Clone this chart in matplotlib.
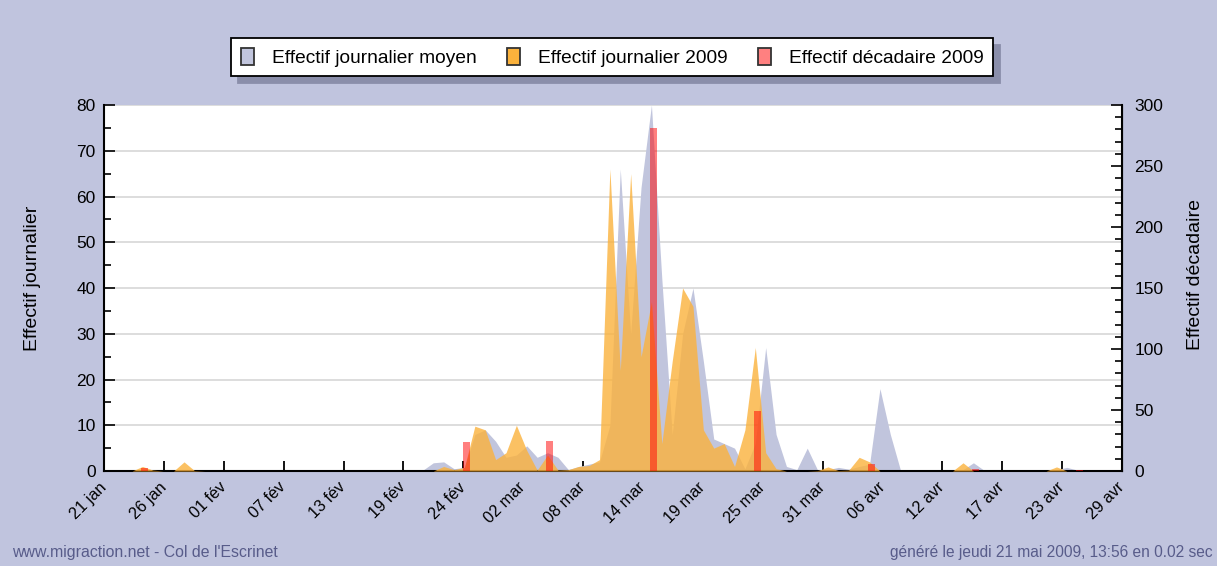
import numpy as np
import matplotlib
matplotlib.use("Agg")
import matplotlib.pyplot as plt
from matplotlib.patches import Patch
from matplotlib.ticker import MultipleLocator

plt.rcParams['font.family'] = ['Liberation Sans', 'DejaVu Sans']

#  Daily counts, one value per day starting 22 jan (day 1 = 22 jan)
moyen = [0, 0, 0, 0, 0, 0, 0, 0, 0, 0,
         0, 0, 0, 0, 0, 0, 0, 0, 0, 0,
         0, 0, 0, 0, 0, 0, 0, 0, 0, 0,
         0.2, 1.8, 2.0, 0.5, 0.8, 8, 9, 6.5, 3, 3.5,
         5.5, 3, 4, 3, 0.3, 1, 1.5, 2, 10, 66,
         30, 62, 80, 42, 8, 30, 40, 24, 7, 6,
         5, 0.5, 6, 27, 8, 1, 0.3, 5, 0.2, 0.3,
         0.8, 0.4, 1, 1.5, 18, 8, 0, 0, 0, 0,
         0, 0, 0.3, 1.8, 0.2, 0, 0, 0, 0, 0,
         0, 0.3, 0.8, 0.2, 0, 0, 0, 0, 0]
journalier_2009 = [0, 0, 0, 1, 0.2, 0, 0, 2, 0.1, 0,
                   0, 0, 0, 0, 0, 0, 0, 0, 0, 0,
                   0, 0, 0, 0, 0, 0, 0, 0, 0, 0,
                   0, 0, 1, 0.3, 0.8, 9.8, 9, 2.5, 4, 10,
                   4.5, 0.2, 3.5, 0.2, 0.3, 1, 1.2, 2.5, 66, 22,
                   65, 25, 37, 6, 24, 40, 36, 9, 5, 6,
                   1, 9, 27, 4, 0.5, 0, 0, 0, 0.1, 0.9,
                   0.1, 0.2, 3, 2, 0, 0, 0, 0, 0, 0,
                   0, 0, 1.8, 0, 0, 0, 0, 0, 0, 0,
                   0, 0.9, 0, 0, 0, 0, 0, 0, 0]
days = np.arange(1, len(moyen) + 1)

#  Decade sums 2009 (days since 21 jan at start of each decade)
decade_start = [0, 11, 21, 31, 39, 49, 59, 70, 80, 90]
decadaire_2009 = [2.5, 0, 0, 24, 25, 281, 49, 6, 2, 1]

tick_labels = ["21 jan", "26 jan", "01 fév", "07 fév", "13 fév", "19 fév",
               "24 fév", "02 mar", "08 mar", "14 mar", "19 mar", "25 mar",
               "31 mar", "06 avr", "12 avr", "17 avr", "23 avr", "29 avr"]

bg = "#c0c4de"
grey = "#c1c5dd"
orange = "#fbb23c"
red = "#ff0000"
txt = "#585c8a"

fig = plt.figure(figsize=(12.17, 5.66), dpi=100, facecolor=bg)
ax = fig.add_axes([0.0855, 0.1678, 0.8364, 0.6467])
ax.set_facecolor("white")

ax.fill_between(days, moyen, color=grey, lw=0, zorder=2)
ax.fill_between(days, journalier_2009, color=orange, alpha=0.8, lw=0, zorder=3)

x0, x1 = 0.3, 98.3
ax.set_xlim(x0, x1)
ax.set_ylim(0, 80)
ax.set_xticks(np.linspace(x0, x1, len(tick_labels)))
ax.set_xticklabels(tick_labels, rotation=45, ha="right", va="center",
                   rotation_mode="anchor", fontsize=11.7)
ax.yaxis.set_major_locator(MultipleLocator(10))
ax.yaxis.set_minor_locator(MultipleLocator(5))
ax.grid(axis="y", color="#dadada", lw=1.3, zorder=1)
ax.set_axisbelow(True)
ax.tick_params(axis="y", which="major", direction="in", length=8, width=1.2, labelsize=12.5, pad=6)
ax.tick_params(axis="y", which="minor", direction="in", length=5, width=1.2)
ax.tick_params(axis="x", direction="in", length=7, width=1.3, pad=10)
for s in ["left", "bottom"]:
    ax.spines[s].set_linewidth(1.5)
ax.spines["top"].set_visible(False)

ax2 = ax.twinx()
ax2.set_ylim(0, 300)
ax2.bar(np.array(decade_start) + 4.2, decadaire_2009, width=0.65, color=red,
        alpha=0.5, lw=0, zorder=4)
ax2.yaxis.set_major_locator(MultipleLocator(50))
ax2.yaxis.set_minor_locator(MultipleLocator(10))
ax2.tick_params(axis="y", which="major", direction="in", length=8, width=1.2, labelsize=12.5, pad=9)
ax2.tick_params(axis="y", which="minor", direction="in", length=5, width=1.2)
ax2.spines["right"].set_linewidth(1.5)
ax2.spines["top"].set_visible(False)
ax2.spines["left"].set_visible(False)
ax2.spines["bottom"].set_visible(False)

fig.text(33 / 1217, 1 - 278 / 566, "Effectif journalier", rotation=90,
         ha="center", va="center", fontsize=14)
fig.text(1196 / 1217, 1 - 275 / 566, "Effectif décadaire", rotation=90,
         ha="center", va="center", fontsize=14)

handles = [Patch(facecolor=grey, edgecolor="#333333", lw=1.3),
           Patch(facecolor=orange, edgecolor="#333333", lw=1.3),
           Patch(facecolor="#ff8080", edgecolor="#333333", lw=1.3)]
leg = fig.legend(handles, ["Effectif journalier moyen", "Effectif journalier 2009",
                           "Effectif décadaire 2009"],
                 loc="center", bbox_to_anchor=(0.503, 0.899), ncol=3, fontsize=13.8,
                 frameon=True, fancybox=False, edgecolor="black", framealpha=1,
                 handlelength=0.7, handleheight=1.0, handletextpad=0.9,
                 columnspacing=1.6, borderpad=0.5,
                 shadow={"ox": 5, "oy": -5, "color": "#8a8eaa", "alpha": 1})
leg.get_frame().set_linewidth(1.3)

fig.text(12 / 1217, 1 - 553 / 566, "www.migraction.net - Col de l'Escrinet",
         ha="left", va="center", fontsize=11.4, color=txt)
fig.text(1213 / 1217, 1 - 553 / 566, "généré le jeudi 21 mai 2009, 13:56 en 0.02 sec",
         ha="right", va="center", fontsize=11.2, color=txt)

fig.savefig("out.png", dpi=100, facecolor=bg)
